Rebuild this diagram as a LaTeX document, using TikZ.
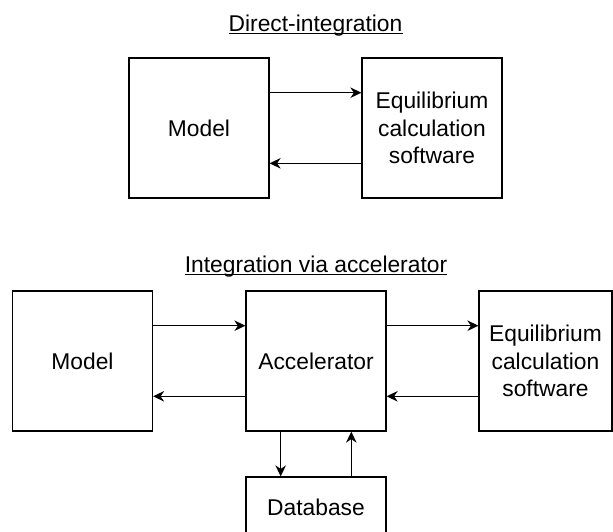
\documentclass[tikz,border=0pt]{standalone}
\usepackage{fontspec}
\setmainfont{Liberation Sans}
\usetikzlibrary{arrows.meta, calc}
\tikzset{
  block/.style={draw, line width=1.2pt, minimum width=140pt, minimum height=140pt,
                align=center, inner sep=0pt},
  flow/.style={line width=1.2pt, -{Stealth[length=11pt, width=10.5pt, inset=3.5pt]}},
  heading/.style={inner sep=0pt, anchor=base},
  uline/.style={line width=1.2pt},
}

\begin{document}
\begin{tikzpicture}[x=1pt, y=-1pt, font=\fontsize{22.8}{27.7}\selectfont]
  \useasboundingbox (0,0) rectangle (613,531);
  \clip (0,0) rectangle (613,531);
  % direct integration
  \node[heading] (ttop) at (315.5,31) {Direct-integration};
  \draw[uline] ([yshift=-2.3pt]ttop.base west) -- ([yshift=-2.3pt]ttop.base east);
  \node[block] (mtop) at (199,128) {Model};
  \node[block] (eqtop) at (432,128) {Equilibrium\\calculation\\software};
  \draw[flow] ($(mtop.north east)!0.25!(mtop.south east)$)
    -- ($(eqtop.north west)!0.25!(eqtop.south west)$);
  \draw[flow] ($(eqtop.north west)!0.75!(eqtop.south west)$)
    -- ($(mtop.north east)!0.75!(mtop.south east)$);
  % integration via accelerator
  \node[heading] (tbot) at (316,272) {Integration via accelerator};
  \draw[uline] ([yshift=-2.3pt]tbot.base west) -- ([yshift=-2.3pt]tbot.base east);
  \node[block] (mbot) at (82.5,361) {Model};
  \node[block] (acc) at (316,361) {Accelerator};
  \node[block, minimum width=133pt] (eqbot) at (545.5,361) {Equilibrium\\calculation\\software};
  \node[block, minimum height=60pt] (db) at (316,507) {Database};
  \draw[flow] ($(mbot.north east)!0.25!(mbot.south east)$)
    -- ($(acc.north west)!0.25!(acc.south west)$);
  \draw[flow] ($(acc.north west)!0.75!(acc.south west)$)
    -- ($(mbot.north east)!0.75!(mbot.south east)$);
  \draw[flow] ($(acc.north east)!0.25!(acc.south east)$)
    -- ($(eqbot.north west)!0.25!(eqbot.south west)$);
  \draw[flow] ($(eqbot.north west)!0.75!(eqbot.south west)$)
    -- ($(acc.north east)!0.75!(acc.south east)$);
  % database
  \draw[flow] ($(acc.south west)!0.25!(acc.south east)$)
    -- ($(db.north west)!0.25!(db.north east)$);
  \draw[flow] ($(db.north west)!0.75!(db.north east)$)
    -- ($(acc.south west)!0.75!(acc.south east)$);
\end{tikzpicture}
\end{document}
